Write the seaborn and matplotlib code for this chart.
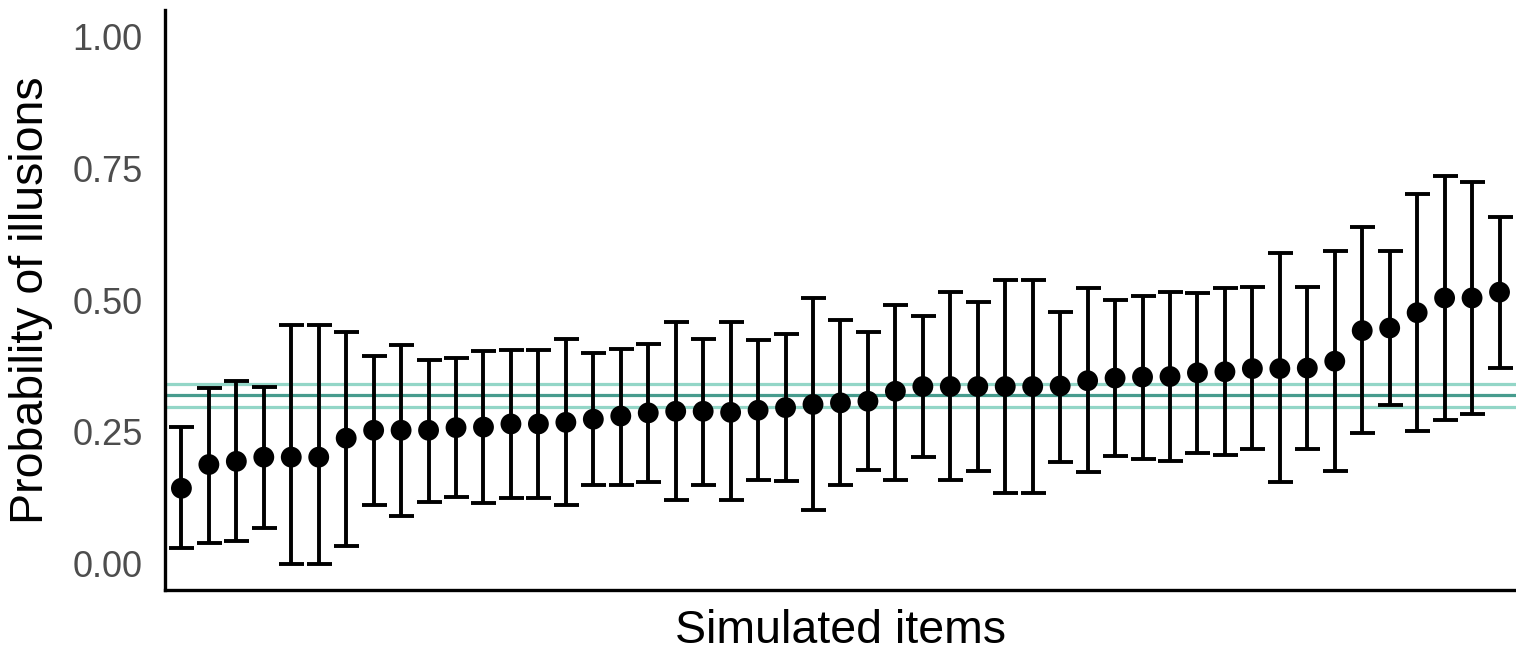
import numpy as np
import pandas as pd
import matplotlib
matplotlib.use('Agg')
import matplotlib.pyplot as plt
import seaborn as sns

# estimated probability of illusions per simulated item (sorted), with interval bounds
prob = [0.143, 0.188, 0.194, 0.202, 0.202, 0.202, 0.238, 0.253, 0.253, 0.253,
        0.258, 0.259, 0.265, 0.265, 0.268, 0.274, 0.280, 0.286, 0.289, 0.289,
        0.287, 0.291, 0.296, 0.302, 0.305, 0.308, 0.327, 0.336, 0.336, 0.336,
        0.336, 0.336, 0.337, 0.347, 0.352, 0.354, 0.355, 0.362, 0.364, 0.370,
        0.370, 0.371, 0.384, 0.442, 0.447, 0.476, 0.504, 0.504, 0.515]
lower = [0.029, 0.040, 0.042, 0.068, 0.000, 0.000, 0.034, 0.111, 0.090, 0.117,
         0.126, 0.115, 0.125, 0.125, 0.111, 0.149, 0.150, 0.155, 0.120, 0.150,
         0.120, 0.158, 0.156, 0.101, 0.149, 0.178, 0.159, 0.202, 0.158, 0.175,
         0.134, 0.134, 0.193, 0.174, 0.204, 0.199, 0.195, 0.210, 0.207, 0.218,
         0.154, 0.218, 0.175, 0.248, 0.301, 0.251, 0.272, 0.283, 0.371]
upper = [0.260, 0.334, 0.346, 0.335, 0.452, 0.452, 0.439, 0.393, 0.414, 0.387,
         0.390, 0.404, 0.406, 0.406, 0.427, 0.399, 0.407, 0.417, 0.458, 0.426,
         0.458, 0.424, 0.436, 0.504, 0.462, 0.439, 0.491, 0.469, 0.515, 0.497,
         0.538, 0.538, 0.478, 0.522, 0.501, 0.508, 0.516, 0.513, 0.522, 0.525,
         0.589, 0.524, 0.594, 0.638, 0.594, 0.702, 0.736, 0.723, 0.657]

# overall mean and its interval
mean_line = 0.319
mean_lo = 0.297
mean_hi = 0.341

df = pd.DataFrame({'item': np.arange(len(prob)), 'prob': prob,
                   'lower': lower, 'upper': upper})

sns.set_theme(style='ticks')
plt.rcParams['font.family'] = ['Liberation Sans', 'DejaVu Sans']

fig = plt.figure(figsize=(15.16, 6.53), dpi=100)
ax = fig.add_axes([0.1088, 0.0965, 0.8912, 0.888])

# reference lines
ax.axhline(mean_hi, color='#93d6c7', lw=2.3, zorder=1)
ax.axhline(mean_lo, color='#93d6c7', lw=2.3, zorder=1)
ax.axhline(mean_line, color='#479c8e', lw=2.3, zorder=1)

# intervals
ax.errorbar(df['item'], df['prob'],
            yerr=[df['prob'] - df['lower'], df['upper'] - df['prob']],
            fmt='none', ecolor='black', elinewidth=2.8, capsize=9,
            capthick=2.8, zorder=2)

sns.scatterplot(data=df, x='item', y='prob', color='black', s=225,
                edgecolor='none', zorder=3, ax=ax)

ax.set_xlim(-0.6, len(prob) - 0.4)
ax.set_ylim(-0.05, 1.05)
ax.set_yticks([0, 0.25, 0.5, 0.75, 1.0])
ax.set_yticklabels(['0.00', '0.25', '0.50', '0.75', '1.00'])
ax.set_xticks([])
ax.tick_params(axis='y', length=0, pad=16, labelsize=26, labelcolor='#4d4d4d')

ax.set_xlabel('Simulated items', fontsize=33.5, labelpad=14, color='black')
ax.set_ylabel('Probability of illusions', fontsize=33.5, labelpad=14, color='black')

sns.despine(ax=ax)
for side in ['left', 'bottom']:
    ax.spines[side].set_linewidth(2.4)
    ax.spines[side].set_color('black')

plt.savefig('out.png', dpi=100)
